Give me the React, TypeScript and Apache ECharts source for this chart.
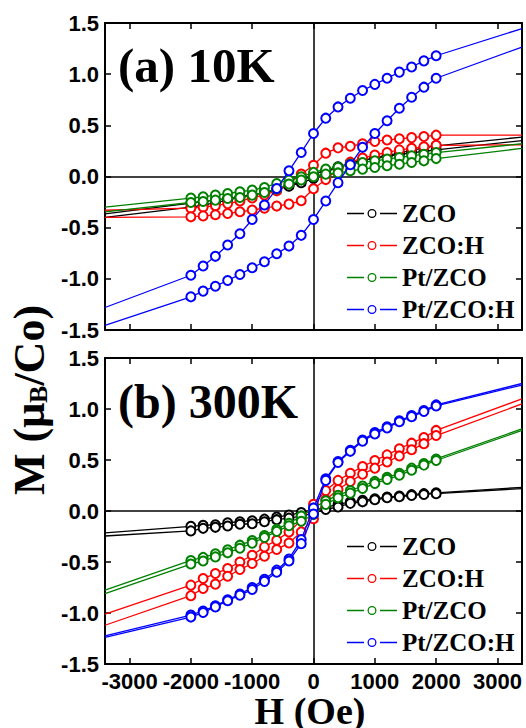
import React, { useEffect, useRef } from "react";
import * as echarts from "echarts";

// Field values (Oe) where markers were measured
const H_STEPS = [-2000, -1800, -1600, -1400, -1200, -1000, -800, -600, -400, -200, 0, 200, 400, 600, 800, 1000, 1200, 1400, 1600, 1800, 2000];
// Field values at the plot edges (line continues without markers)
const H_ENDS = [-3400, 3400];

const NAMES = ["ZCO", "ZCO:H", "Pt/ZCO", "Pt/ZCO:H"];
const COLORS = ["#000000", "#ff0000", "#008000", "#0000ff"];

const X_TICKS = [-3000, -2000, -1000, 0, 1000, 2000, 3000];

// ---- (a) 10 K ----
const ZCO_10K_DESC = [-0.26, -0.245, -0.23, -0.215, -0.2, -0.18, -0.16, -0.13, -0.09, -0.045, 0.02, 0.06, 0.095, 0.125, 0.155, 0.18, 0.205, 0.23, 0.255, 0.28, 0.3];
const ZCO_10K_DESC_ENDS = [-0.365, 0.385];
const ZCO_10K_ASC = [-0.3, -0.28, -0.255, -0.23, -0.205, -0.18, -0.155, -0.125, -0.095, -0.06, -0.02, 0.045, 0.09, 0.13, 0.16, 0.18, 0.2, 0.215, 0.23, 0.245, 0.26];
const ZCO_10K_ASC_ENDS = [-0.4, 0.35];

const ZCOH_10K_DESC = [-0.31, -0.3, -0.285, -0.265, -0.24, -0.21, -0.18, -0.14, -0.07, 0.025, 0.11, 0.228, 0.28, 0.295, 0.32, 0.343, 0.357, 0.368, 0.38, 0.39, 0.404];
const ZCOH_10K_DESC_ENDS = [-0.33, 0.405];
const ZCOH_10K_ASC = [-0.394, -0.385, -0.374, -0.361, -0.345, -0.328, -0.309, -0.289, -0.27, -0.237, -0.12, -0.03, 0.07, 0.14, 0.18, 0.21, 0.235, 0.26, 0.275, 0.29, 0.305];
const ZCOH_10K_ASC_ENDS = [-0.4, 0.31];

const PTZCO_10K_DESC = [-0.211, -0.198, -0.182, -0.166, -0.149, -0.133, -0.107, -0.068, -0.035, -0.003, 0.04, 0.072, 0.09, 0.121, 0.137, 0.153, 0.17, 0.186, 0.202, 0.218, 0.234];
const PTZCO_10K_DESC_ENDS = [-0.3, 0.32];
const PTZCO_10K_ASC = [-0.254, -0.244, -0.231, -0.215, -0.205, -0.182, -0.156, -0.123, -0.074, -0.035, -0.003, 0.023, 0.035, 0.056, 0.072, 0.088, 0.105, 0.12, 0.137, 0.153, 0.175];
const PTZCO_10K_ASC_ENDS = [-0.345, 0.275];

const PTZCOH_10K_DESC = [-0.965, -0.875, -0.78, -0.67, -0.56, -0.42, -0.278, -0.118, 0.056, 0.235, 0.42, 0.57, 0.68, 0.765, 0.84, 0.9, 0.96, 1.02, 1.07, 1.13, 1.18];
const PTZCOH_10K_DESC_ENDS = [-1.28, 1.445];
const PTZCOH_10K_ASC = [-1.176, -1.12, -1.072, -1.016, -0.957, -0.892, -0.833, -0.755, -0.68, -0.575, -0.42, -0.24, -0.06, 0.115, 0.285, 0.42, 0.545, 0.667, 0.775, 0.873, 0.96];
const PTZCOH_10K_ASC_ENDS = [-1.455, 1.265];

// ---- (b) 300 K ----
const ZCO_300K_DESC = [-0.15, -0.14, -0.135, -0.115, -0.105, -0.095, -0.08, -0.06, -0.04, -0.015, 0.01, 0.035, 0.065, 0.09, 0.105, 0.12, 0.137, 0.147, 0.16, 0.17, 0.178];
const ZCO_300K_DESC_ENDS = [-0.215, 0.232];
const ZCO_300K_ASC = [-0.195, -0.17, -0.16, -0.147, -0.13, -0.125, -0.105, -0.085, -0.07, -0.05, -0.02, 0.015, 0.04, 0.075, 0.09, 0.11, 0.13, 0.14, 0.152, 0.162, 0.17];
const ZCO_300K_ASC_ENDS = [-0.245, 0.22];

const ZCOH_300K_DESC = [-0.727, -0.662, -0.613, -0.564, -0.5, -0.434, -0.352, -0.287, -0.205, -0.09, 0.065, 0.2, 0.3, 0.37, 0.435, 0.495, 0.55, 0.61, 0.665, 0.72, 0.79];
const ZCOH_300K_DESC_ENDS = [-1.01, 1.1];
const ZCOH_300K_ASC = [-0.83, -0.76, -0.717, -0.64, -0.574, -0.515, -0.444, -0.378, -0.313, -0.205, -0.075, 0.11, 0.21, 0.29, 0.36, 0.42, 0.48, 0.54, 0.6, 0.66, 0.74];
const ZCOH_300K_ASC_ENDS = [-1.12, 1.05];

const PTZCO_300K_DESC = [-0.485, -0.455, -0.42, -0.38, -0.335, -0.29, -0.24, -0.18, -0.12, -0.05, 0.03, 0.1, 0.155, 0.2, 0.245, 0.29, 0.33, 0.37, 0.42, 0.465, 0.51];
const PTZCO_300K_DESC_ENDS = [-0.775, 0.805];
const PTZCO_300K_ASC = [-0.52, -0.49, -0.45, -0.41, -0.365, -0.315, -0.26, -0.2, -0.145, -0.1, -0.035, 0.065, 0.13, 0.175, 0.22, 0.27, 0.31, 0.35, 0.4, 0.45, 0.495];
const PTZCO_300K_ASC_ENDS = [-0.81, 0.79];

const PTZCOH_300K_DESC = [-1.02, -0.98, -0.93, -0.87, -0.815, -0.75, -0.67, -0.58, -0.47, -0.28, 0.03, 0.315, 0.485, 0.595, 0.695, 0.77, 0.825, 0.885, 0.935, 0.985, 1.04];
const PTZCOH_300K_DESC_ENDS = [-1.225, 1.25];
const PTZCOH_300K_ASC = [-1.04, -0.995, -0.94, -0.88, -0.825, -0.77, -0.69, -0.6, -0.49, -0.32, -0.03, 0.3, 0.475, 0.585, 0.685, 0.755, 0.815, 0.875, 0.925, 0.975, 1.03];
const PTZCOH_300K_ASC_ENDS = [-1.24, 1.235];

const PANEL_10K = [
  [ZCO_10K_DESC, ZCO_10K_DESC_ENDS, ZCO_10K_ASC, ZCO_10K_ASC_ENDS],
  [ZCOH_10K_DESC, ZCOH_10K_DESC_ENDS, ZCOH_10K_ASC, ZCOH_10K_ASC_ENDS],
  [PTZCO_10K_DESC, PTZCO_10K_DESC_ENDS, PTZCO_10K_ASC, PTZCO_10K_ASC_ENDS],
  [PTZCOH_10K_DESC, PTZCOH_10K_DESC_ENDS, PTZCOH_10K_ASC, PTZCOH_10K_ASC_ENDS],
];
const PANEL_300K = [
  [ZCO_300K_DESC, ZCO_300K_DESC_ENDS, ZCO_300K_ASC, ZCO_300K_ASC_ENDS],
  [ZCOH_300K_DESC, ZCOH_300K_DESC_ENDS, ZCOH_300K_ASC, ZCOH_300K_ASC_ENDS],
  [PTZCO_300K_DESC, PTZCO_300K_DESC_ENDS, PTZCO_300K_ASC, PTZCO_300K_ASC_ENDS],
  [PTZCOH_300K_DESC, PTZCOH_300K_DESC_ENDS, PTZCOH_300K_ASC, PTZCOH_300K_ASC_ENDS],
];

const SERIF = '"Liberation Serif", "Times New Roman", serif';
const SANS = '"Liberation Sans", Arial, sans-serif';

// legend glyph: line – gap – hollow circle – gap – line (50 x 10 box)
const LEGEND_ICON =
  "path://M0,4.35H17V5.65H0Z M33,4.35H50V5.65H33Z " +
  "M20.5,5A4.5,4.5 0 1,0 29.5,5A4.5,4.5 0 1,0 20.5,5Z " +
  "M21.8,5A3.2,3.2 0 1,1 28.2,5A3.2,3.2 0 1,1 21.8,5Z " +
  "M0,0.5H0.01V0.51H0Z M0,9.5H0.01V9.51H0Z";

function branchData(vals: number[], ends: number[]) {
  const pts: any[] = [{ value: [H_ENDS[0], ends[0]], symbol: "none" }];
  H_STEPS.forEach((h, i) => pts.push([h, vals[i]]));
  pts.push({ value: [H_ENDS[1], ends[1]], symbol: "none" });
  return pts;
}

function panelSeries(panel: any[], axisIndex: number) {
  const out: any[] = [];
  panel.forEach((p, k) => {
    [
      [p[0], p[1]],
      [p[2], p[3]],
    ].forEach(([vals, ends], b) => {
      const s: any = {
        type: "line",
        name: NAMES[k],
        xAxisIndex: axisIndex * 2,
        yAxisIndex: axisIndex * 2,
        data: branchData(vals, ends),
        symbol: "emptyCircle",
        symbolSize: 9,
        showAllSymbol: true,
        lineStyle: { color: COLORS[k], width: 1.3 },
        itemStyle: { color: COLORS[k], borderWidth: 1.5 },
        silent: true,
        z: 3 + k,
      };
      if (k === 0 && b === 0) {
        s.markLine = {
          silent: true,
          symbol: "none",
          label: { show: false },
          lineStyle: { color: "#000", type: "solid", width: 1.5 },
          data: [{ xAxis: 0 }, { yAxis: 0 }],
          z: 1,
        };
      }
      out.push(s);
    });
  });
  return out;
}

function xAxisPair(grid: number, labels: boolean) {
  const common = {
    type: "value",
    gridIndex: grid,
    min: H_ENDS[0],
    max: H_ENDS[1],
    splitLine: { show: false },
    axisLine: { show: true, onZero: false, lineStyle: { color: "#000", width: 2 } },
    axisTick: { show: true, inside: true, length: 6, lineStyle: { color: "#000", width: 1.5 } },
  };
  return [
    {
      ...common,
      position: "bottom",
      axisLabel: {
        show: labels,
        margin: 6,
        color: "#000",
        fontFamily: SANS,
        fontWeight: "bold",
        fontSize: 22,
        lineHeight: 22,
        formatter: (v: number) => (X_TICKS.indexOf(v) >= 0 ? String(v) : ""),
      },
    },
    { ...common, position: "top", axisLabel: { show: false } },
  ];
}

function yAxisPair(grid: number) {
  const common = {
    type: "value",
    gridIndex: grid,
    min: -1.5,
    max: 1.5,
    interval: 0.5,
    splitLine: { show: false },
    axisLine: { show: true, onZero: false, lineStyle: { color: "#000", width: 2 } },
    axisTick: { show: true, inside: true, length: 6, lineStyle: { color: "#000", width: 1.5 } },
  };
  return [
    {
      ...common,
      position: "left",
      axisLabel: {
        show: true,
        margin: 6,
        color: "#000",
        fontFamily: SANS,
        fontWeight: "bold",
        fontSize: 22,
        formatter: (v: number) => v.toFixed(1),
      },
    },
    { ...common, position: "right", axisLabel: { show: false } },
  ];
}

function legendAt(top: number) {
  return {
    data: NAMES.map((n) => ({ name: n, icon: LEGEND_ICON })),
    orient: "vertical",
    left: 347,
    top,
    padding: 0,
    itemWidth: 50,
    itemHeight: 10,
    itemGap: 7,
    selectedMode: false,
    itemStyle: { borderWidth: 0 },
    textStyle: { fontFamily: SERIF, fontWeight: "bold", fontSize: 25, color: "#000" },
  };
}

export default function App() {
  const ref = useRef<HTMLDivElement>(null);
  useEffect(() => {
    if (!ref.current) return;
    const chart = echarts.init(ref.current, undefined, { renderer: "svg" });
    const option: any = {
      animation: false,
      backgroundColor: "#fff",
      grid: [
        { left: 105, top: 23, width: 417, height: 307 },
        { left: 105, top: 358, width: 417, height: 306 },
      ],
      xAxis: [...xAxisPair(0, false), ...xAxisPair(1, true)],
      yAxis: [...yAxisPair(0), ...yAxisPair(1)],
      legend: [legendAt(201), legendAt(534)],
      series: [...panelSeries(PANEL_10K, 0), ...panelSeries(PANEL_300K, 1)],
      graphic: [
        {
          type: "text",
          x: 118,
          y: 65,
          style: { text: "(a) 10K", font: `bold 49px ${SERIF}`, fill: "#000", align: "left", verticalAlign: "middle" },
        },
        {
          type: "text",
          x: 118,
          y: 401,
          style: { text: "(b) 300K", font: `bold 48px ${SERIF}`, fill: "#000", align: "left", verticalAlign: "middle" },
        },
        {
          type: "text",
          x: 310,
          y: 711,
          style: {
            text: "H (Oe)",
            font: `bold 38px ${SERIF}`,
            lineHeight: 26,
            fill: "#000",
            align: "center",
            verticalAlign: "middle",
          },
        },
        {
          type: "text",
          x: 29,
          y: 400,
          rotation: Math.PI / 2,
          style: {
            text: "{n|M (μ}{s|B}{n|/Co)}",
            align: "center",
            verticalAlign: "middle",
            fill: "#000",
            rich: {
              n: { fontFamily: SERIF, fontWeight: "bold", fontSize: 44, lineHeight: 44, fill: "#000", color: "#000" },
              s: { fontFamily: SERIF, fontWeight: "bold", fontSize: 26, lineHeight: 14, verticalAlign: "bottom", fill: "#000", color: "#000" },
            },
          },
        },
      ],
    };
    chart.setOption(option);
    return () => chart.dispose();
  }, []);
  return (
    <div
      ref={ref}
      style={{ position: "absolute", left: 0, top: 0, width: 526, height: 728, background: "#fff" }}
    />
  );
}
